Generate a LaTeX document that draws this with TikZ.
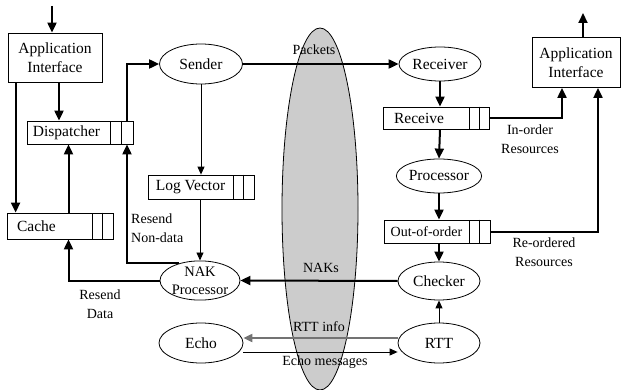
\documentclass[tikz,border=0pt]{standalone}
\usepackage{fontspec}
\setmainfont{Liberation Serif}
\usetikzlibrary{arrows.meta,shapes.geometric}
\newcommand{\mainf}{\fontsize{15.5}{19}\selectfont}
\newcommand{\labf}{\fontsize{14}{18.5}\selectfont}
\tikzset{
  ell/.style={draw, ellipse, minimum width=82pt, minimum height=38pt, inner sep=0pt, font=\mainf, line width=0.8pt},
  qmain/.style={draw, rectangle, inner sep=0pt, font=\mainf, line width=0.8pt},
  qcell/.style={draw, rectangle, inner sep=0pt, line width=0.8pt},
  lab/.style={font=\labf, align=center, inner sep=0pt},
  thk/.style={line width=2pt, -{Triangle[length=10pt,width=9pt]}},
  thn/.style={line width=0.9pt, -{Triangle[length=8pt,width=7pt]}},
  gry/.style={line width=2pt, draw=black!55, -{Triangle[length=9pt,width=8pt,fill=black!55]}},
}
\begin{document}
\begin{tikzpicture}[x=1pt,y=-1pt]
\useasboundingbox (0,0) rectangle (623,390);
% gray channel
\node[draw, ellipse, fill=black!20, line width=0.8pt, minimum width=76pt, minimum height=362pt, inner sep=0pt] (chan) at (320,209) {};

% boxes
\node[qmain, minimum width=94pt, minimum height=49pt, align=center] (appL) at (55,57.5) {Application\\Interface};
\node[qmain, minimum width=88pt, minimum height=50pt, align=center] (appR) at (576,62.5) {Application\\Interface};

\node[qmain, minimum width=83pt, minimum height=23pt] (disp) at (68.5,132.5) {Dispatcher\hspace*{4pt}};
\node[qcell, minimum width=23pt, minimum height=23pt] (dispq) at (121.5,132.5) {};
\draw[line width=0.8pt] (dispq.north) -- (dispq.south);

\node[qmain, minimum width=85pt, minimum height=26pt] (cache) at (49.5,226) {Cache\hspace*{26pt}};
\node[qcell, minimum width=21pt, minimum height=26pt] (cacheq) at (102.5,226) {};
\draw[line width=0.8pt] (cacheq.north) -- (cacheq.south);

\node[qmain, minimum width=85pt, minimum height=24pt] (logv) at (190.5,187) {Log Vector};
\node[qcell, minimum width=21pt, minimum height=24pt] (logvq) at (243.5,187) {};
\draw[line width=0.8pt] (logvq.north) -- (logvq.south);

\node[qmain, minimum width=86pt, minimum height=22pt] (recv) at (426,118) {Receive\hspace*{14pt}};
\node[qcell, minimum width=20pt, minimum height=22pt] (recvq) at (479,118) {};
\draw[line width=0.8pt] (recvq.north) -- (recvq.south);

\node[qmain, minimum width=85pt, minimum height=23pt, font=\labf] (ooo) at (426.5,231.5) {Out-of-order};
\node[qcell, minimum width=21pt, minimum height=23pt] (oooq) at (479.5,231.5) {};
\draw[line width=0.8pt] (oooq.north) -- (oooq.south);

% ellipses
\node[ell, minimum width=83pt, minimum height=40pt] (sender) at (201,64) {Sender};
\node[ell, minimum height=34pt] (receiver) at (440,64) {Receiver};
\node[ell, minimum width=83pt, minimum height=34pt] (processor) at (439,176) {Processor};
\node[ell, minimum height=38pt] (checker) at (439,281) {Checker};
\node[ell, minimum width=80pt, minimum height=36pt, align=center, font=\fontsize{14.5}{18}\selectfont] (nak) at (200,280.5) {NAK\\Processor};
\node[ell, minimum width=84pt, minimum height=40pt] (echo) at (201,343) {Echo};
\node[ell, minimum height=40pt] (rtt) at (439,343) {RTT};

% free ends
\coordinate (inL) at (52,6);
\coordinate (outR) at (583,13);

% connectors
\draw[thk] (inL) -- (inL |- appL.north);
\draw[thk] ([xshift=4pt]appL.south) -- ([xshift=4pt]appL.south |- disp.north);
\draw[thk] ([xshift=8pt]appL.south west) -- ([xshift=8pt]appL.south west |- cache.north);
\draw[thk] (disp.south |- cache.north) -- (disp.south);
\draw[thk] ([xshift=5.5pt]dispq.north) |- (sender.west);
\draw[thn] (sender.south) -- (sender.south |- logv.north);
\draw[thn] (nak.north |- logv.south) -- (nak.north);
\draw[thk] (nak.west) -| (disp.south |- cache.south);
\draw[thk] (nak.140) -| ([xshift=5.5pt]dispq.south);
\draw[thk] (sender.east) -- (receiver.west);
\draw[thk] (receiver.south) -- (receiver.south |- recv.north);
\draw[thk] (receiver.south |- recv.south) -- (processor.north);
\draw[thk] (processor.south) -- (processor.south |- ooo.north);
\draw[thk] (processor.south |- ooo.south) -- (checker.north);
\draw[thk] (recvq.east) -| ([xshift=-14pt]appR.south);
\draw[thk] (oooq.east) -| ([xshift=22pt]appR.south);
\draw[thk] ([xshift=7pt]appR.north) -- (outR);
\draw[thk] (checker.west) -- (nak.east);
\draw[thn] (rtt.north) -- (checker.south);
\draw[gry] ([yshift=5pt]rtt.west) -- ([yshift=5pt]echo.east);
\draw[thn] ([yshift=-9pt]echo.east) -- ([yshift=-9pt]rtt.west);

% labels
\node[lab] (lpk) at (314,50) {Packets};
\node[lab] (lnak) at (321,268) {NAKs};
\node[lab] (lrtt) at (319,327) {RTT info};
\node[lab] (lecho) at (325,362) {Echo messages};
\node[lab, align=left, anchor=west] (lrnd) at (131,228) {Resend\\Non-data};
\node[lab] (lrd) at (100,304) {Resend\\Data};
\node[lab] (lio) at (530,139) {In-order\\Resources};
\node[lab] (lro) at (544,252) {Re-ordered\\Resources};
\end{tikzpicture}
\end{document}
